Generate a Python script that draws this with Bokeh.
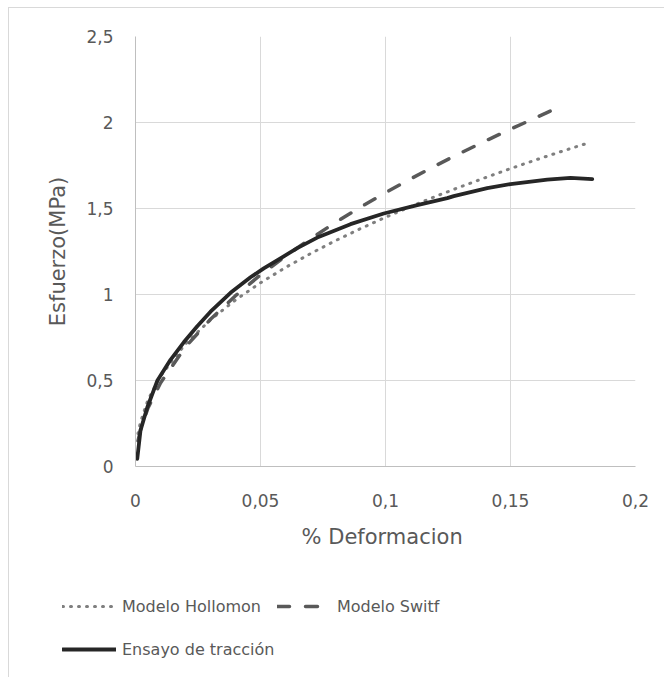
from bokeh.plotting import figure
from bokeh.models import Range1d, FixedTicker, CustomJSTickFormatter, Legend, LegendItem
from bokeh.embed import file_html
from bokeh.resources import INLINE

x_ticks = [0, 0.05, 0.1, 0.15, 0.2]
y_ticks = [0, 0.5, 1, 1.5, 2, 2.5]

ensayo_x = [0.0007, 0.002, 0.0047, 0.0087, 0.014, 0.0193, 0.0247, 0.03, 0.038, 0.046, 0.0513,
            0.0593, 0.0647, 0.0727, 0.078, 0.086, 0.0993, 0.1127, 0.1247, 0.1273, 0.1407,
            0.15, 0.1647, 0.174, 0.1827]
ensayo_y = [0.045, 0.21, 0.343, 0.498, 0.62, 0.722, 0.815, 0.9, 1.01, 1.1, 1.152,
            1.222, 1.27, 1.331, 1.362, 1.409, 1.471, 1.52, 1.56, 1.572, 1.618,
            1.642, 1.668, 1.678, 1.671]

hollomon_x = [0.001, 0.002, 0.005, 0.01, 0.02, 0.03, 0.04, 0.05, 0.06, 0.07, 0.08, 0.09,
              0.1, 0.11, 0.12, 0.13, 0.14, 0.15, 0.16, 0.17, 0.18]
hollomon_y = [0.191, 0.259, 0.388, 0.526, 0.713, 0.853, 0.968, 1.068, 1.157, 1.238, 1.313,
              1.383, 1.449, 1.511, 1.570, 1.626, 1.680, 1.732, 1.782, 1.830, 1.876]

swift_x = [0.001, 0.002, 0.005, 0.01, 0.02, 0.03, 0.04, 0.05, 0.06, 0.07, 0.08, 0.09,
           0.1, 0.11, 0.12, 0.13, 0.14, 0.15, 0.16, 0.166]
swift_y = [0.149, 0.212, 0.340, 0.486, 0.695, 0.856, 0.993, 1.114, 1.223, 1.324, 1.419,
           1.508, 1.592, 1.672, 1.749, 1.822, 1.893, 1.961, 2.027, 2.067]

legend_labels = ["Modelo Hollomon", "Modelo Switf", "Ensayo de tracción"]

FONT = "DejaVu Sans"
TXT = "#595959"
BORDER = "1px solid #d9d9d9"

H_STYLE = dict(line_color="#7f7f7f", line_width=3, line_dash="1 7", line_cap="round")
S_STYLE = dict(line_color="#595959", line_width=3.5, line_dash="12 16", line_cap="round")
E_STYLE = dict(line_color="#262626", line_width=3.8, line_cap="round", line_join="round")

p = figure(width=656, height=560, output_backend="svg", toolbar_location=None,
           x_range=Range1d(0, 0.2), y_range=Range1d(0, 2.5),
           min_border_left=126, min_border_right=30, min_border_top=28, min_border_bottom=102)
p.outline_line_color = None
p.styles = {"margin-left": "8px", "margin-top": "7px",
            "border-top": BORDER, "border-left": BORDER}

for ax in (p.xaxis[0], p.yaxis[0]):
    ax.major_tick_line_color = None
    ax.minor_tick_line_color = None
    ax.major_tick_out = 0
    ax.major_tick_in = 0
    ax.minor_tick_out = 0
    ax.axis_line_color = "#bfbfbf"
    ax.major_label_text_font = FONT
    ax.major_label_text_font_size = "17px"
    ax.major_label_text_color = TXT
    ax.axis_label_text_font = FONT
    ax.axis_label_text_font_size = "21px"
    ax.axis_label_text_color = TXT
    ax.axis_label_text_font_style = "normal"
    ax.formatter = CustomJSTickFormatter(code="return tick.toString().replace('.', ',');")

p.xaxis.ticker = FixedTicker(ticks=x_ticks)
p.yaxis.ticker = FixedTicker(ticks=y_ticks)
p.xaxis.axis_label = "%  Deformacion"
p.yaxis.axis_label = "Esfuerzo(MPa)"
p.xaxis.major_label_standoff = 27
p.yaxis.major_label_standoff = 22
p.xaxis.axis_label_standoff = 15
p.yaxis.axis_label_standoff = 13

p.xgrid.ticker = FixedTicker(ticks=x_ticks)
p.ygrid.ticker = FixedTicker(ticks=y_ticks)
p.grid.grid_line_color = "#d9d9d9"
p.grid.grid_line_width = 1

p.line(hollomon_x, hollomon_y, **H_STYLE)
p.line(swift_x, swift_y, **S_STYLE)
p.line(ensayo_x, ensayo_y, **E_STYLE)

# legend panel below the chart (separate root, so frames are not aligned)
q = figure(width=656, height=110, output_backend="svg", toolbar_location=None,
           x_range=Range1d(0, 1), y_range=Range1d(0, 1),
           x_axis_type=None, y_axis_type=None, min_border=0)
q.outline_line_color = None
q.xgrid.visible = False
q.ygrid.visible = False
q.styles = {"margin-left": "8px", "border-left": BORDER}
nan = float("nan")
r_h = q.line([nan], [nan], **H_STYLE)
r_s = q.line([nan], [nan], **S_STYLE)
r_e = q.line([nan], [nan], **E_STYLE)


def style_legend(lg):
    lg.border_line_color = None
    lg.background_fill_alpha = 0
    lg.padding = 0
    lg.margin = 0
    lg.glyph_width = 54
    lg.glyph_height = 20
    lg.label_height = 20
    lg.label_standoff = 6
    lg.spacing = 16
    lg.label_text_font = FONT
    lg.label_text_font_size = "16px"
    lg.label_text_color = TXT


leg1 = Legend(items=[LegendItem(label=legend_labels[0], renderers=[r_h]),
                     LegendItem(label=legend_labels[1], renderers=[r_s])],
              orientation="horizontal", location=(53, 61))
leg2 = Legend(items=[LegendItem(label=legend_labels[2], renderers=[r_e])],
              orientation="horizontal", location=(53, 18))
style_legend(leg1)
style_legend(leg2)
q.add_layout(leg1, "center")
q.add_layout(leg2, "center")

open("out.html", "w").write(file_html([p, q], INLINE))
